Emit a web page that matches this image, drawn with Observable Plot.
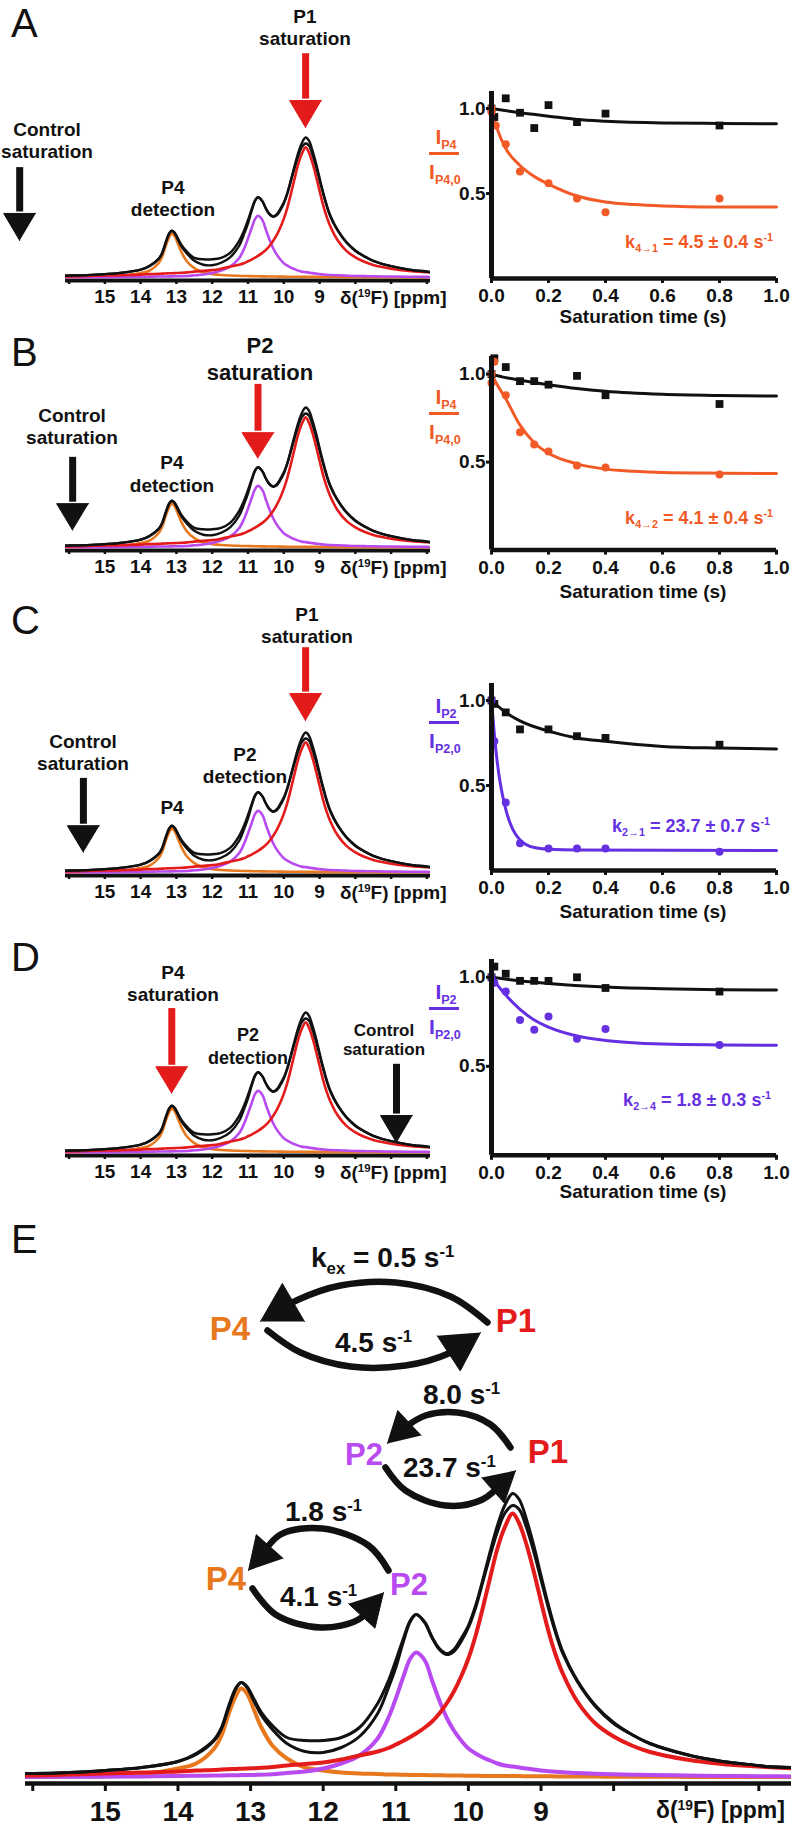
<!DOCTYPE html>
<html><head><meta charset="utf-8">
<script src="https://cdn.jsdelivr.net/npm/d3@7"></script>
<script src="https://cdn.jsdelivr.net/npm/@observablehq/plot@0.6"></script>
<style>
html,body{margin:0;padding:0;background:#fff;}
#page{position:relative;width:793px;height:1833px;overflow:hidden;background:#fff;font-family:"Liberation Sans",Arial,Helvetica,sans-serif;}
.lab{position:absolute;white-space:nowrap;text-align:center;}
.sb{font-size:0.6em;position:relative;top:0.38em;}
.sp{font-size:0.6em;position:relative;top:-0.6em;}
.bar{position:absolute;}
</style></head><body><div id="page"></div>
<script>
// ---------------- DATA ----------------
// 19F spectrum (ppm grid) and intensities
const ppm = [16.1,16.0,15.5,15.0,14.5,14.0,13.75,13.5,13.4,13.3,
  13.2,13.13,13.05,12.95,12.85,12.7,12.5,12.25,12.0,11.75,
  11.5,11.25,11.1,11.0,10.9,10.8,10.72,10.6,10.5,10.4,
  10.3,10.2,10.1,10.0,9.9,9.8,9.7,9.6,9.5,9.39,
  9.3,9.2,9.1,9.0,8.9,8.8,8.7,8.5,8.25,8.0,
  7.75,7.5,7.0,6.5,6.0,5.9,5.5];
const orangeP4 = [0.5,0.5,1,1.5,3,9,14,29,42,64,
  82,89,84,67,50,32,19,10,7,5,
  4,3.5,3,3,2.8,2.6,2.5,2.4,2.3,2.2,
  2.1,2,1.9,1.8,1.7,1.6,1.6,1.5,1.5,1.4,
  1.4,1.3,1.3,1.2,1.2,1.1,1.1,1,0.9,0.8,
  0.8,0.7,0.6,0.5,0.5,0.5,0.5];
const magentaP2 = [0.5,0.5,0.7,0.8,1,1.5,1.7,2,2.1,2.2,
  2.3,2.4,2.5,2.6,2.8,3.2,4.5,6,9,14,
  22,39,60,79,100,119,125,117,97,77,
  60,47,37,29,24,20,17,14,12,11,
  10,9,8,7,6.3,5.7,5.2,4.5,3.8,3.2,
  2.8,2.5,2,1.6,1.3,1.2,1.1];
const redP1 = [2,2,3,4,5,6,7,7.5,8,8.3,
  8.6,8.8,9,9.3,9.7,10.5,12,13.5,15,18,
  22,26,29.5,33,36.5,40.5,44,50,56,64,
  74,86,101,119,142,170,200,229,250,264,
  254,233,206,176,147,123,104,76,54,41,
  32,25.5,18,13.5,11,10.5,9];
const blackUpper = [4,4,5,7,10,16,24,38,50,72,
  90,95,91,78,65,52,40,37,37,40,
  50,74,97,117,138,157,163,155,140,129,
  124,128,139,152,172,198,226,252,272,284,
  278,258,232,202,173,147,126,97,72,55,
  43,34,23,16,12,11,10];
const blackLower = [4,4,5,7,10,16,23,37,49,70,
  89,95,90,76,62,48,34,26,25,30,
  41,64,90,110,135,156,163,155,140,128,
  123,126,136,150,170,196,222,246,264,272,
  268,250,226,198,170,145,124,96,71,54,
  43,34,23,16,12,11,10];
const peakPpm = {P4: 13.13, P2: 10.72, P1: 9.39};
const ppmTickMarks = [16,15,14,13,12,11,10,9,8,7,6];
const ppmTickLabels = [15,14,13,12,11,10,9];

// saturation-transfer kinetics: [time (s), I/I0]
const timeTicks = [0,0.2,0.4,0.6,0.8,1.0];
const ratioTicks = [0.5,1.0];
const A_ctrl = [[0,1.0],[0.01,0.95],[0.05,1.06],[0.1,0.975],[0.15,0.885],[0.2,1.02],[0.3,0.92],[0.4,0.97],[0.8,0.9]];
const A_det  = [[0,1.0],[0,0.98],[0.015,0.9],[0.05,0.79],[0.1,0.63],[0.2,0.56],[0.3,0.47],[0.4,0.39],[0.8,0.47]];
const A_ctrlFit = [[0,1.0],[0.1,0.975],[0.2,0.955],[0.3,0.935],[0.4,0.925],[0.6,0.915],[0.8,0.912],[1.0,0.91]];
const A_detFit  = [[0,1.0],[0.02,0.88],[0.05,0.765],[0.1,0.665],[0.15,0.6],[0.2,0.555],[0.3,0.485],[0.4,0.45],[0.5,0.435],[0.6,0.427],[0.8,0.421],[1.0,0.42]];
const B_ctrl = [[0,1.0],[0.01,1.09],[0.05,1.04],[0.1,0.96],[0.15,0.96],[0.2,0.94],[0.3,0.99],[0.4,0.88],[0.8,0.83]];
const B_det  = [[0,1.0],[0,0.95],[0.01,1.07],[0.05,0.88],[0.1,0.67],[0.15,0.6],[0.2,0.56],[0.3,0.48],[0.4,0.47],[0.8,0.43]];
const B_ctrlFit = [[0,1.0],[0.05,0.98],[0.1,0.965],[0.2,0.94],[0.3,0.918],[0.4,0.902],[0.6,0.885],[0.8,0.878],[1.0,0.875]];
const B_detFit  = [[0,1.0],[0.02,0.94],[0.05,0.86],[0.1,0.71],[0.15,0.61],[0.2,0.55],[0.3,0.49],[0.4,0.46],[0.5,0.448],[0.6,0.441],[0.8,0.437],[1.0,0.435]];
const C_ctrl = [[0,1.0],[0.01,0.98],[0.05,0.93],[0.1,0.83],[0.2,0.83],[0.3,0.79],[0.4,0.78],[0.8,0.74]];
const C_det  = [[0,1.0],[0.01,0.76],[0.05,0.40],[0.1,0.16],[0.2,0.13],[0.3,0.13],[0.4,0.13],[0.8,0.11]];
const C_ctrlFit = [[0,1.0],[0.05,0.93],[0.1,0.88],[0.2,0.82],[0.3,0.78],[0.4,0.76],[0.6,0.73],[0.8,0.72],[1.0,0.715]];
const C_detFit  = [[0,1.0],[0.01,0.8],[0.02,0.64],[0.03,0.52],[0.05,0.36],[0.075,0.24],[0.1,0.18],[0.15,0.135],[0.2,0.125],[0.3,0.12],[1.0,0.118]];
const D_ctrl = [[0,1.0],[0.01,1.06],[0.05,1.02],[0.1,0.98],[0.15,0.98],[0.2,0.98],[0.3,1.0],[0.4,0.94],[0.8,0.92]];
const D_det  = [[0,1.0],[0.01,0.97],[0.05,0.92],[0.1,0.76],[0.15,0.705],[0.2,0.78],[0.3,0.655],[0.4,0.71],[0.8,0.62]];
const D_ctrlFit = [[0,1.0],[0.1,0.98],[0.2,0.965],[0.4,0.945],[0.6,0.935],[0.8,0.93],[1.0,0.928]];
const D_detFit  = [[0,1.0],[0.05,0.9],[0.1,0.82],[0.15,0.76],[0.2,0.72],[0.3,0.67],[0.4,0.645],[0.6,0.625],[0.8,0.62],[1.0,0.618]];

// ---------------- STYLE / LAYOUT ----------------
const FONT = '"Liberation Sans", Arial, Helvetica, sans-serif';
const INK = "#111111";
const C_ORANGE = "#e8781e", C_MAGENTA = "#b84af0", C_RED = "#e41b1b";
const C_KORANGE = "#f15a26", C_PURPLE = "#6530e2";
const page = document.getElementById("page");
const svgStyle = {background: "none", overflow: "visible", maxWidth: "none", fontFamily: FONT, color: INK};

function place(node, left, top) {
  const w = document.createElement("div");
  w.style.position = "absolute"; w.style.left = left + "px"; w.style.top = top + "px";
  w.appendChild(node); page.appendChild(w);
}
function lab(html, x, y, o = {}) {
  const fs = o.size || 19;
  const d = document.createElement("div");
  d.className = "lab";
  d.innerHTML = html;
  d.style.fontSize = fs + "px";
  d.style.fontWeight = o.weight || "bold";
  d.style.color = o.color || INK;
  d.style.left = x + "px";
  const ax = o.anchor || "middle";
  const tx = ax === "start" ? "0" : ax === "end" ? "-100%" : "-50%";
  if (o.baseline) {
    d.style.lineHeight = "1";
    d.style.top = (y - 0.8465 * fs) + "px";
    d.style.transform = `translate(${tx},0)`;
  } else {
    d.style.lineHeight = String(o.lh || 1.2);
    d.style.top = y + "px";
    d.style.transform = `translate(${tx},-50%)`;
  }
  page.appendChild(d);
}

// ---------------- SPECTRA ----------------
function spectrum(cfg) {
  const marks = [Plot.ruleY([-6], {stroke: INK, strokeWidth: cfg.axisW})];
  const series = [[orangeP4, C_ORANGE, cfg.lwC], [magentaP2, C_MAGENTA, cfg.lwC], [redP1, C_RED, cfg.lwC],
                  [blackLower, INK, cfg.lwB], [blackUpper, INK, cfg.lwB]];
  for (const [ys, c, w] of series)
    marks.push(Plot.line(ppm, {x: ppm, y: ys, stroke: c, strokeWidth: w, curve: "catmull-rom", clip: true}));
  marks.push(Plot.axisX({ticks: ppmTickMarks, tickFormat: d => ppmTickLabels.includes(d) ? String(d) : "",
    tickSize: cfg.tickSize, tickPadding: cfg.tickPad, strokeWidth: cfg.tickW, stroke: INK, fill: INK,
    fontSize: cfg.fontSize, fontWeight: "bold", fontFamily: FONT}));
  for (const a of cfg.arrows || []) {
    marks.push(Plot.ruleX([a.x], {y1: a.top, y2: a.base + 3, stroke: a.color, strokeWidth: 7}));
    marks.push(Plot.line([[a.x - cfg.hw, a.base], [a.x + cfg.hw, a.base], [a.x, a.tip]],
      {x: d => d[0], y: d => d[1], fill: a.color, stroke: a.color, strokeWidth: 1}));
  }
  return Plot.plot({
    width: cfg.width, height: cfg.plotH + cfg.mB,
    marginLeft: cfg.mL, marginRight: cfg.mR, marginTop: 0, marginBottom: cfg.mB,
    x: {domain: [16.1, cfg.xEnd]},
    y: {domain: [-6, -6 + cfg.plotH / cfg.k], axis: null},
    style: svgStyle, marks
  });
}
const smallBase = {width: 440, mL: 65, mR: 10, mB: 34, plotH: 280, k: 0.493, xEnd: 5.9,
  lwB: 2.4, lwC: 2.6, axisW: 4, tickSize: 4, tickPad: 5, tickW: 2.5, fontSize: 19, hw: 16 / 35.8};
const smallPanels = [
  {axis: 280, arrows: [{x: peakPpm.P1, top: 454, base: 359, tip: 304, color: C_RED}, {x: 17.38, top: 223, base: 130, tip: 75, color: INK}]},
  {axis: 550, arrows: [{x: peakPpm.P2, top: 331, base: 233, tip: 181, color: C_RED}, {x: 15.9, top: 183, base: 89, tip: 35, color: INK}]},
  {axis: 875, arrows: [{x: peakPpm.P1, top: 456, base: 363, tip: 308, color: C_RED}, {x: 15.6, top: 191, base: 95, tip: 41, color: INK}]},
  {axis: 1155, arrows: [{x: peakPpm.P4, top: 292, base: 174, tip: 120, color: C_RED}, {x: 6.85, top: 179, base: 75, tip: 20, color: INK}]}
];
for (const p of smallPanels) place(spectrum({...smallBase, arrows: p.arrows}), 0, p.axis - 280);
// big spectrum E
place(spectrum({width: 793, mL: 25, mR: 2, mB: 50, plotH: 343, k: 1.0, xEnd: 5.55,
  lwB: 3, lwC: 4, axisW: 4.5, tickSize: 8, tickPad: 10, tickW: 3, fontSize: 28, hw: 0, arrows: []}), 0, 1440);

// ---------------- KINETICS ----------------
function kinetics(cfg) {
  const H = 1.1 * cfg.ppu;
  const xy = {x: d => d[0], y: d => d[1]};
  return Plot.plot({
    width: 393, height: 10 + H + 40, marginLeft: 91, marginRight: 17, marginTop: 10, marginBottom: 40,
    x: {domain: [0, 1]}, y: {domain: [0, 1.1]}, style: svgStyle,
    marks: [
      Plot.line(cfg.ctrlFit, {...xy, stroke: INK, strokeWidth: 3, curve: "monotone-x"}),
      Plot.line(cfg.detFit, {...xy, stroke: cfg.color, strokeWidth: 3, curve: "monotone-x"}),
      Plot.dot(cfg.ctrl, {...xy, symbol: "square", fill: INK, r: 4.4}),
      Plot.dot(cfg.det, {...xy, fill: cfg.color, r: 4}),
      Plot.ruleY([0], {stroke: INK, strokeWidth: 4.5}),
      Plot.ruleX([0], {stroke: INK, strokeWidth: 5}),
      Plot.axisX({ticks: timeTicks, tickFormat: d3.format(".1f"), tickSize: 5, tickPadding: 5, strokeWidth: 3,
        stroke: INK, fill: INK, fontSize: 19, fontWeight: "bold", fontFamily: FONT}),
      Plot.axisY({ticks: ratioTicks, tickFormat: d3.format(".1f"), tickSize: 5, tickPadding: 1, strokeWidth: 3,
        stroke: INK, fill: INK, fontSize: 19, fontWeight: "bold", fontFamily: FONT})
    ]
  });
}
const kinPanels = [
  {axis: 278, ppu: 170, ctrl: A_ctrl, det: A_det, ctrlFit: A_ctrlFit, detFit: A_detFit, color: C_KORANGE},
  {axis: 550, ppu: 176, ctrl: B_ctrl, det: B_det, ctrlFit: B_ctrlFit, detFit: B_detFit, color: C_KORANGE},
  {axis: 870, ppu: 170, ctrl: C_ctrl, det: C_det, ctrlFit: C_ctrlFit, detFit: C_detFit, color: C_PURPLE},
  {axis: 1155, ppu: 178, ctrl: D_ctrl, det: D_det, ctrlFit: D_ctrlFit, detFit: D_detFit, color: C_PURPLE}
];
for (const k of kinPanels) place(kinetics(k), 400, k.axis - 1.1 * k.ppu - 10);

// ---------------- EXCHANGE DIAGRAM (E) ----------------
const arcs = [
  {pts: [[487,1322],[450,1296],[395,1282],[340,1285],[298,1299],[260,1321]], L: 38, W: 44},
  {pts: [[267,1330],[300,1352],[350,1366],[405,1365],[448,1353],[480,1332]], L: 38, W: 42},
  {pts: [[510,1447],[490,1424],[457,1412],[425,1415],[403,1428],[387,1443]], L: 30, W: 34},
  {pts: [[385,1467],[405,1490],[445,1505],[482,1499],[515,1470]], L: 30, W: 34},
  {pts: [[388,1570],[368,1545],[322,1528],[280,1534],[248,1570]], L: 32, W: 36},
  {pts: [[252,1588],[275,1614],[320,1627],[358,1619],[383,1592]], L: 32, W: 36}
];
const arcLines = [], heads = [];
arcs.forEach((a, i) => {
  const n = a.pts.length, tip = a.pts[n - 1], prev = a.pts[n - 2];
  const dx = tip[0] - prev[0], dy = tip[1] - prev[1], len = Math.hypot(dx, dy);
  const ux = dx / len, uy = dy / len, nx = -uy, ny = ux;
  const bx = tip[0] - a.L * ux, by = tip[1] - a.L * uy;
  a.pts.slice(0, n - 1).forEach(p => arcLines.push({id: i, x: p[0], y: p[1]}));
  arcLines.push({id: i, x: tip[0] - 0.5 * a.L * ux, y: tip[1] - 0.5 * a.L * uy});
  heads.push({id: i, x: tip[0], y: tip[1]}, {id: i, x: bx + nx * a.W / 2, y: by + ny * a.W / 2}, {id: i, x: bx - nx * a.W / 2, y: by - ny * a.W / 2});
});
place(Plot.plot({
  width: 793, height: 400, marginLeft: 0, marginRight: 0, marginTop: 0, marginBottom: 0,
  x: {domain: [0, 793], axis: null}, y: {domain: [1640, 1240], axis: null}, style: svgStyle,
  marks: [
    Plot.line(arcLines, {x: "x", y: "y", z: "id", stroke: INK, strokeWidth: 6.5, curve: "catmull-rom"}),
    Plot.line(heads, {x: "x", y: "y", z: "id", fill: INK, stroke: INK, strokeWidth: 1, strokeLinejoin: "round"})
  ]
}), 0, 1240);

// ---------------- TEXT ----------------
for (const [t, y] of [["A", 22.5], ["B", 352], ["C", 620], ["D", 957], ["E", 1239]])
  lab(t, 11, y, {size: 40, weight: "normal", anchor: "start", lh: 1});

lab("P1<br>saturation", 305, 28.5, {lh: 1.21});
lab("Control<br>saturation", 47, 141.5, {lh: 1.21});
lab("P4<br>detection", 173, 199.5, {lh: 1.21});
lab("P2<br>saturation", 260, 358.5, {size: 22, lh: 1.23});
lab("Control<br>saturation", 72, 427.5, {lh: 1.21});
lab("P4<br>detection", 172, 475, {lh: 1.21});
lab("P1<br>saturation", 307, 626, {lh: 1.15});
lab("Control<br>saturation", 83, 753.5, {lh: 1.21});
lab("P4", 172, 808);
lab("P2<br>detection", 245, 766.5, {lh: 1.21});
lab("P4<br>saturation", 173, 984.5, {lh: 1.21});
lab("P2<br>detection", 248, 1046.5, {size: 18, lh: 1.3});
lab("Control<br>saturation", 384, 1041, {size: 17, lh: 1.1});

const deltaLabel = 'δ(<span class="sp">19</span>F) [ppm]';
for (const p of smallPanels) lab(deltaLabel, 340, p.axis + 18, {anchor: "start", size: 19});
lab(deltaLabel, 656, 1811, {anchor: "start", size: 23});

function frac(sub, x, barY, color) {
  lab(`I<span class="sb">${sub}</span>`, x + 2, barY - 16, {size: 21, color});
  const b = document.createElement("div");
  b.className = "bar";
  Object.assign(b.style, {left: (x - 15) + "px", top: (barY - 1.5) + "px", width: "30px", height: "3px", background: color});
  page.appendChild(b);
  lab(`I<span class="sb">${sub},0</span>`, x + 1, barY + 19, {size: 21, color});
}
frac("P4", 444, 153, C_KORANGE);
frac("P4", 444, 413, C_KORANGE);
frac("P2", 444, 722, C_PURPLE);
frac("P2", 444, 1008, C_PURPLE);

lab('k<span class="sb">4→1</span> = 4.5 ± 0.4 s<span class="sp">-1</span>', 773, 248, {anchor: "end", baseline: true, size: 18, color: C_KORANGE});
lab('k<span class="sb">4→2</span> = 4.1 ± 0.4 s<span class="sp">-1</span>', 773, 524, {anchor: "end", baseline: true, size: 18, color: C_KORANGE});
lab('k<span class="sb">2→1</span> = 23.7 ± 0.7 s<span class="sp">-1</span>', 770, 832, {anchor: "end", baseline: true, size: 18, color: C_PURPLE});
lab('k<span class="sb">2→4</span> = 1.8 ± 0.3 s<span class="sp">-1</span>', 771, 1106, {anchor: "end", baseline: true, size: 18, color: C_PURPLE});

for (const y of [317, 592, 912, 1192]) lab("Saturation time (s)", 643, y, {size: 19});

lab('k<span class="sb">ex</span> = 0.5 s<span class="sp">-1</span>', 311, 1268, {anchor: "start", baseline: true, size: 28});
lab('4.5 s<span class="sp">-1</span>', 335, 1353, {anchor: "start", baseline: true, size: 28});
lab('8.0 s<span class="sp">-1</span>', 423, 1405, {anchor: "start", baseline: true, size: 28});
lab('23.7 s<span class="sp">-1</span>', 403, 1478, {anchor: "start", baseline: true, size: 28});
lab('1.8 s<span class="sp">-1</span>', 285, 1522, {anchor: "start", baseline: true, size: 28});
lab('4.1 s<span class="sp">-1</span>', 280, 1607, {anchor: "start", baseline: true, size: 28});
lab("P4", 230, 1327.5, {size: 33, color: C_ORANGE, lh: 1});
lab("P1", 516, 1320, {size: 33, color: C_RED, lh: 1});
lab("P2", 364, 1454, {size: 31, color: C_MAGENTA, lh: 1});
lab("P1", 548, 1451, {size: 33, color: C_RED, lh: 1});
lab("P4", 226, 1578, {size: 33, color: C_ORANGE, lh: 1});
lab("P2", 409, 1584, {size: 31, color: C_MAGENTA, lh: 1});
</script></body></html>
